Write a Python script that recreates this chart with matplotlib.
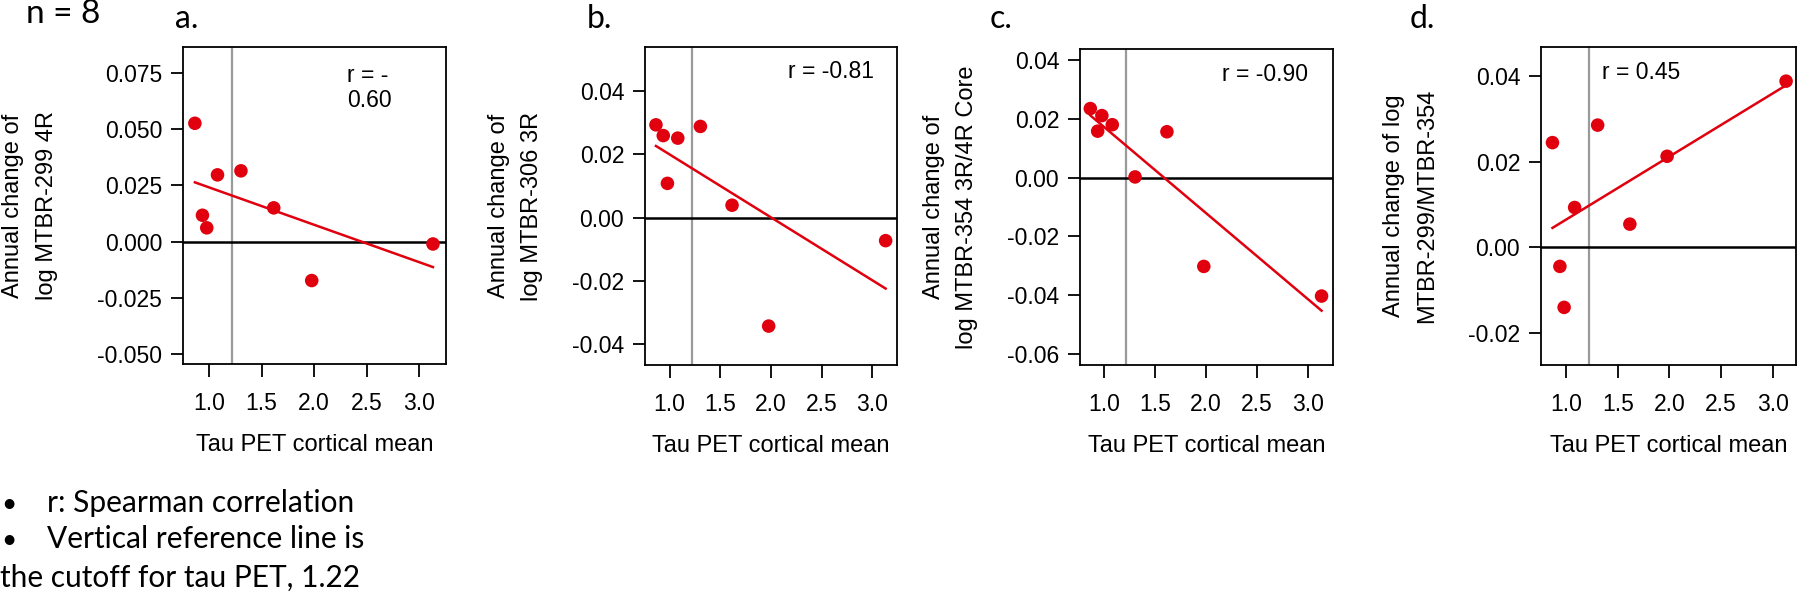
import numpy as np
import matplotlib
matplotlib.use('Agg')
import matplotlib.pyplot as plt

# ── Data ─────────────────────────────────────────────────────────────────────
TAU_PET = [0.866, 0.938, 0.979, 1.081, 1.304, 1.616, 1.977, 3.130]

MTBR299_4R = [0.0527, 0.0117, 0.0061, 0.0297, 0.0315, 0.0150, -0.0174, -0.0011]
MTBR306_3R = [0.0293, 0.0259, 0.0108, 0.0251, 0.0288, 0.0039, -0.0343, -0.0073]
MTBR354_CORE = [0.0236, 0.0159, 0.0212, 0.0181, 0.0003, 0.0157, -0.0302, -0.0403]
RATIO_299_354 = [0.0245, -0.0045, -0.0141, 0.0093, 0.0286, 0.0054, 0.0213, 0.0389]

TAU_CUTOFF = 1.22

PANEL_LETTERS = ["a.", "b.", "c.", "d."]
R_LABELS = ["r = -\n0.60", "r = -0.81", "r = -0.90", "r = 0.45"]
YLABELS = [
    ("Annual change of", "log MTBR-299 4R"),
    ("Annual change of", "log MTBR-306 3R"),
    ("Annual change of", "log MTBR-354 3R/4R Core"),
    ("Annual change of log", "MTBR-299/MTBR-354"),
]
YTICKS = [
    [-0.050, -0.025, 0.000, 0.025, 0.050, 0.075],
    [-0.04, -0.02, 0.00, 0.02, 0.04],
    [-0.06, -0.04, -0.02, 0.00, 0.02, 0.04],
    [-0.02, 0.00, 0.02, 0.04],
]
YFMT = ["{:.3f}", "{:.2f}", "{:.2f}", "{:.2f}"]
YLIMS = [(-0.0546, 0.0867), (-0.0466, 0.0539), (-0.0638, 0.0439), (-0.0276, 0.0469)]
XLIMS = [(0.753, 3.254), (0.758, 3.242), (0.765, 3.242), (0.755, 3.226)]
XTICKS = [1.0, 1.5, 2.0, 2.5, 3.0]

SERIES = [MTBR299_4R, MTBR306_3R, MTBR354_CORE, RATIO_299_354]

# ── Layout (pixels in the 1800x596 canvas) ───────────────────────────────────
W, H = 1800, 596
BOXES = [  # left, right, top, bottom
    (183, 446, 47, 364),
    (645, 897, 47, 365),
    (1080, 1333, 49, 365),
    (1541, 1796, 47, 365),
]
YLAB_X = [(13, 47), (499, 532), (934, 967), (1394, 1427)]
LETTER_X = [175, 587, 990, 1410]
R_POS = [(0.624, 0.945), (0.567, 0.958), (0.562, 0.956), (0.239, 0.955)]

RED = "#E0000E"
AX_FONT = "Liberation Sans"
NOTE_FONT = ["Lato", "DejaVu Sans"]

fig = plt.figure(figsize=(W / 100, H / 100), dpi=100)
fig.patch.set_facecolor("white")

for i, ys in enumerate(SERIES):
    left, right, top, bottom = BOXES[i]
    ax = fig.add_axes([left / W, 1 - bottom / H, (right - left) / W, (bottom - top) / H])
    x = np.array(TAU_PET)
    y = np.array(ys)

    ax.axvline(TAU_CUTOFF, color="#9A9A9A", lw=1.6, zorder=1)
    ax.axhline(0, color="black", lw=1.8, zorder=1)

    # least-squares fit drawn over the data range
    slope, icpt = np.polyfit(x, y, 1)
    xl = np.array([x.min(), x.max()])
    ax.plot(xl, icpt + slope * xl, color=RED, lw=1.8, zorder=2)
    ax.scatter(x, y, s=95, color=RED, edgecolor="none", zorder=3)

    ax.set_xlim(*XLIMS[i])
    ax.set_ylim(*YLIMS[i])
    ax.set_xticks(XTICKS)
    ax.set_xticklabels([f"{t:.1f}" for t in XTICKS], fontname=AX_FONT, fontsize=16.5)
    ax.set_yticks(YTICKS[i])
    ax.set_yticklabels([YFMT[i].format(t) for t in YTICKS[i]], fontname=AX_FONT, fontsize=16.5)
    ax.tick_params(axis="x", direction="out", length=9, width=1.3, pad=11, colors="black")
    ax.tick_params(axis="y", direction="out", length=9, width=1.3, pad=6, colors="black")
    for sp in ax.spines.values():
        sp.set_linewidth(1.3)
        sp.set_color("black")

    ax.text(*R_POS[i], R_LABELS[i], transform=ax.transAxes, ha="left", va="top",
            fontname=AX_FONT, fontsize=16.5, linespacing=1.1)

    ax.set_xlabel("Tau PET cortical mean", fontname=AX_FONT, fontsize=17, labelpad=14)

    cy = 1 - (top + bottom) / 2 / H
    for lx, line in zip(YLAB_X[i], YLABELS[i]):
        fig.text(lx / W, cy, line, rotation=90, ha="center", va="center",
                 fontname=AX_FONT, fontsize=17)

    fig.text(LETTER_X[i] / W, 1 - 28 / H, PANEL_LETTERS[i], ha="left", va="baseline",
             family=NOTE_FONT, fontsize=23)

fig.text(26 / W, 1 - 23 / H, "n = 8", ha="left", va="baseline", family=NOTE_FONT, fontsize=24)

notes = [(True, "r: Spearman correlation", 512),
         (True, "Vertical reference line is", 548),
         (False, "the cutoff for tau PET, 1.22", 587)]
for bullet, txt, base in notes:
    yy = 1 - base / H
    if bullet:
        fig.text(1 / W, yy, "\u2022", ha="left", va="baseline", family=NOTE_FONT, fontsize=19)
        fig.text(47 / W, yy, txt, ha="left", va="baseline", family=NOTE_FONT, fontsize=21.5)
    else:
        fig.text(0, yy, txt, ha="left", va="baseline", family=NOTE_FONT, fontsize=21.5)

fig.savefig("out.png", dpi=100, facecolor="white")
